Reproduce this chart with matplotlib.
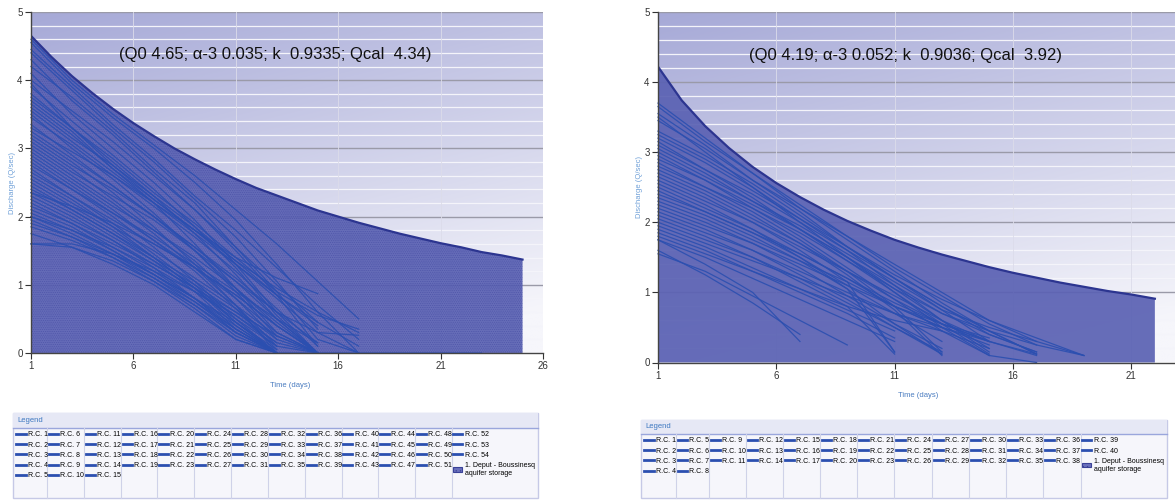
import numpy as np
from matplotlib import pyplot as plt
from matplotlib.lines import Line2D
from matplotlib.patches import Patch, Rectangle

plt.rcParams['font.family'] = ['Liberation Sans', 'DejaVu Sans']
plt.rcParams['hatch.linewidth'] = 0.4

LINE_COLOR = '#2b4fb0'
FILL_COLOR = '#5a61b3'
EDGE_COLOR = '#2c3590'

# ---- left chart: Boussinesq envelope (days 1..25) ----
left_env_days = list(range(1, 26))
left_env = [4.65, 4.34, 4.06, 3.81, 3.58, 3.37, 3.18, 3.00, 2.84, 2.69, 2.55, 2.42,
            2.31, 2.20, 2.09, 2.00, 1.91, 1.83, 1.75, 1.68, 1.61, 1.55, 1.48, 1.43, 1.37]
left_text = "(Q0 4.65; \u03b1-3 0.035; k  0.9335; Qcal  4.34)"

# recession curves, values read at days 1, 3, 5, 7, ...
left_curves = [
    [4.55, 3.95, 3.45, 3.0, 2.5, 1.95, 1.3, 0.6, 0.0],
    [4.4, 3.85, 3.3, 2.8, 2.25, 1.7, 1.05, 0.35],
    [4.3, 3.7, 3.2, 2.65, 2.1, 1.5, 0.85, 0.1],
    [4.2, 3.75, 3.25, 2.7, 2.2, 1.55, 0.9, 0.2, 0.0],
    [4.1, 3.5, 3.0, 2.5, 1.95, 1.3, 0.6, 0.0],
    [4.0, 3.55, 3.1, 2.6, 2.1, 1.55, 1.0, 0.45],
    [3.9, 3.4, 2.9, 2.4, 1.85, 1.25, 0.55, 0.0],
    [3.8, 3.3, 2.85, 2.35, 1.9, 1.4, 0.9, 0.55, 0.35],
    [3.7, 3.25, 2.7, 2.2, 1.6, 0.95, 0.3, 0.0],
    [3.6, 3.15, 2.75, 2.3, 1.85, 1.35, 0.85, 0.4],
    [3.5, 3.0, 2.55, 2.05, 1.5, 0.9, 0.25, 0.0],
    [3.45, 3.05, 2.6, 2.15, 1.7, 1.2, 0.65, 0.1],
    [3.35, 2.9, 2.45, 2.0, 1.5, 0.95, 0.4, 0.0],
    [3.3, 2.95, 2.6, 2.2, 1.8, 1.4, 1.1, 0.87],
    [3.2, 2.8, 2.35, 1.85, 1.3, 0.7, 0.0],
    [3.15, 2.75, 2.4, 2.0, 1.55, 1.05, 0.5, 0.0],
    [3.1, 2.7, 2.25, 1.8, 1.35, 0.8, 0.2],
    [3.05, 2.65, 2.3, 1.95, 1.5, 1.05, 0.6, 0.3, 0.26],
    [3.0, 2.6, 2.2, 1.75, 1.25, 0.7, 0.1],
    [2.95, 2.55, 2.15, 1.8, 1.4, 0.95, 0.45, 0.0],
    [2.9, 2.5, 2.1, 1.65, 1.2, 0.65, 0.05],
    [2.85, 2.45, 2.05, 1.65, 1.25, 0.8, 0.3, 0.0],
    [2.8, 2.4, 2.0, 1.55, 1.05, 0.5, 0.0],
    [2.75, 2.4, 2.05, 1.7, 1.3, 0.9, 0.5, 0.15],
    [2.7, 2.3, 1.9, 1.45, 1.0, 0.45, 0.0],
    [2.65, 2.3, 1.95, 1.6, 1.25, 0.85, 0.4, 0.0],
    [2.6, 2.25, 1.85, 1.4, 0.95, 0.4, 0.0],
    [2.55, 2.2, 1.85, 1.5, 1.1, 0.7, 0.25],
    [2.5, 2.15, 1.8, 1.4, 0.95, 0.45, 0.0],
    [2.45, 2.1, 1.75, 1.4, 1.05, 0.65, 0.2, 0.0],
    [2.4, 2.1, 1.75, 1.35, 0.9, 0.35, 0.0],
    [2.35, 2.05, 1.7, 1.35, 1.0, 0.6, 0.15],
    [2.3, 2.0, 1.65, 1.25, 0.8, 0.3, 0.0],
    [2.25, 1.95, 1.65, 1.3, 0.95, 0.55, 0.1],
    [2.2, 1.9, 1.55, 1.2, 0.8, 0.35, 0.0],
    [2.15, 1.9, 1.6, 1.3, 0.95, 0.6, 0.25, 0.0],
    [2.1, 1.85, 1.5, 1.15, 0.75, 0.3, 0.0],
    [2.05, 1.8, 1.5, 1.15, 0.8, 0.45, 0.05],
    [2.0, 1.8, 1.55, 1.25, 0.9, 0.5, 0.1, 0.0],
    [1.95, 1.7, 1.4, 1.05, 0.65, 0.2, 0.0],
    [1.9, 1.7, 1.45, 1.15, 0.8, 0.4, 0.0],
    [1.85, 1.65, 1.4, 1.1, 0.75, 0.35, 0.0],
    [1.6, 1.6, 1.45, 1.2, 0.9, 0.55, 0.15, 0.0],
    [1.6, 1.55, 1.35, 1.05, 0.7, 0.3, 0.0],
    [3.95, 3.3, 2.75, 2.25, 1.8, 1.3, 0.8, 0.3, 0.0],
    [4.45, 3.9, 3.35, 2.85, 2.3, 1.8, 1.25, 0.7, 0.2],
    [3.75, 3.3, 2.8, 2.3, 1.75, 1.15, 0.5, 0.0],
    [3.55, 3.1, 2.65, 2.2, 1.75, 1.3, 0.85, 0.45, 0.1],
    [3.25, 2.85, 2.45, 2.0, 1.55, 1.1, 0.6, 0.15],
    [2.35, 2.15, 1.9, 1.6, 1.25, 0.85, 0.4, 0.0],
    [2.0, 1.75, 1.45, 1.1, 0.7, 0.25, 0.0],
    [3.65, 3.2, 2.7, 2.25, 1.8, 1.35, 0.95, 0.6, 0.3],
    [4.6, 4.0, 3.5, 3.05, 2.6, 2.1, 1.6, 1.05, 0.5],
    [1.75, 1.55, 1.3, 1.0, 0.6, 0.2, 0.0, 0.0, 0.0, 0.0, 0.0, 0.0],
]

# ---- right chart: Boussinesq envelope (days 1..22) ----
right_env_days = list(range(1, 23))
right_env = [4.22, 3.74, 3.37, 3.06, 2.79, 2.56, 2.36, 2.18, 2.02, 1.88, 1.75,
             1.64, 1.54, 1.45, 1.36, 1.28, 1.21, 1.14, 1.08, 1.02, 0.97, 0.91]
right_text = "(Q0 4.19; \u03b1-3 0.052; k  0.9036; Qcal  3.92)"

right_curves = [
    [3.7, 3.2, 2.7, 2.25, 1.8, 1.4, 1.0, 0.6, 0.3, 0.1],
    [3.65, 3.15, 2.7, 2.2, 1.75, 1.3, 0.85, 0.45, 0.12],
    [3.55, 3.1, 2.6, 2.15, 1.65, 1.2, 0.75, 0.3],
    [3.45, 3.05, 2.6, 2.2, 1.8, 1.35, 0.95, 0.55, 0.25, 0.1],
    [3.3, 2.95, 2.55, 2.1, 1.65, 1.2, 0.8, 0.4, 0.15],
    [3.25, 2.9, 2.5, 2.05, 1.6, 1.1, 0.6, 0.15],
    [3.2, 2.85, 2.45, 2.05, 1.65, 1.25, 0.9, 0.6, 0.35, 0.1],
    [3.15, 2.75, 2.35, 1.9, 1.45, 1.0, 0.55, 0.12],
    [3.1, 2.75, 2.4, 2.0, 1.6, 1.2, 0.8, 0.45, 0.12],
    [3.05, 2.7, 2.3, 1.9, 1.5, 1.05, 0.6, 0.2],
    [3.0, 2.65, 2.3, 1.95, 1.55, 1.15, 0.75, 0.5, 0.3],
    [2.95, 2.6, 2.2, 1.8, 1.35, 0.9, 0.45, 0.1],
    [2.9, 2.6, 2.25, 1.9, 1.5, 1.1, 0.7, 0.4, 0.15],
    [2.85, 2.5, 2.15, 1.75, 1.3, 0.8, 0.15],
    [2.8, 2.5, 2.2, 1.85, 1.45, 1.05, 0.7, 0.45, 0.25],
    [2.75, 2.45, 2.1, 1.7, 1.25, 0.75, 0.1],
    [2.7, 2.4, 2.05, 1.7, 1.3, 0.9, 0.55, 0.3],
    [2.65, 2.35, 2.0, 1.6, 1.15, 0.15],
    [2.6, 2.3, 2.0, 1.65, 1.3, 0.95, 0.6, 0.3, 0.12],
    [2.55, 2.25, 1.9, 1.5, 1.05, 0.55, 0.12],
    [2.5, 2.2, 1.9, 1.55, 1.2, 0.85, 0.55, 0.3, 0.1],
    [2.45, 2.15, 1.85, 1.5, 1.1, 0.7, 0.3],
    [2.4, 2.15, 1.85, 1.55, 1.2, 0.8, 0.55, 0.35],
    [2.35, 2.1, 1.8, 1.45, 1.05, 0.15],
    [2.3, 2.05, 1.75, 1.45, 1.15, 0.8, 0.5, 0.25],
    [2.25, 2.0, 1.7, 1.35, 0.95, 0.55, 0.2],
    [2.2, 1.95, 1.7, 1.4, 1.1, 0.8, 0.5],
    [2.15, 1.9, 1.6, 1.25, 0.9, 0.5, 0.12],
    [2.1, 1.85, 1.6, 1.3, 1.0, 0.7, 0.45, 0.2],
    [2.05, 1.8, 1.5, 1.15, 0.8, 0.12],
    [2.0, 1.75, 1.5, 1.2, 0.85, 0.5, 0.15],
    [1.95, 1.7, 1.45, 1.2, 0.95, 0.7, 0.5, 0.3],
    [1.9, 1.65, 1.35, 1.05, 0.75, 0.45],
    [1.85, 1.6, 1.3, 1.0, 0.7, 0.35],
    [1.8, 1.55, 1.3, 1.05, 0.8, 0.6, 0.45],
    [1.75, 1.5, 1.2, 0.9, 0.6, 0.3],
    [1.6, 1.25, 0.85, 0.4],
    [1.75, 1.4, 1.0, 0.3],
    [1.55, 1.3, 0.95, 0.6, 0.25],
    [3.5, 3.0, 2.5, 2.0, 1.5, 1.0, 0.5, 0.1, 0.0],
]

x_ticks = [1, 6, 11, 16, 21, 26]
y_ticks = [0, 1, 2, 3, 4, 5]
env_label = "1. Deput - Boussinesq\naquifer storage"

W, H = 1175, 501
fig = plt.figure(figsize=(W / 100, H / 100), dpi=100)


def px_axes(x0, x1, y_top, y_bot):
    return fig.add_axes([x0 / W, (H - y_bot) / H, (x1 - x0) / W, (y_bot - y_top) / H])


def background(ax):
    yy, xx = np.mgrid[0:1:200j, 0:1:200j]
    t = np.clip(0.8 * yy + 0.3 * xx, 0, 1)
    top = np.array([166, 169, 215]) / 255
    bot = np.array([246, 246, 251]) / 255
    img = top[None, None, :] * (1 - t[..., None]) + bot[None, None, :] * t[..., None]
    ax.imshow(img, extent=[0, 1, 0, 1], transform=ax.transAxes, aspect='auto',
              zorder=0, origin='upper')


def draw_chart(ax, xmax, env_days, env, curves, hatch):
    background(ax)
    ax.set_xlim(1, xmax)
    ax.set_ylim(0, 5)
    for v in np.arange(0.2, 5.0, 0.2):
        if abs(v - round(v)) > 1e-6:
            ax.axhline(v, color='#f4f4fa', lw=0.9, zorder=1)
    for v in y_ticks[1:]:
        ax.axhline(v, color='#9a9aa8', lw=1.0, zorder=1)
    for v in x_ticks[1:]:
        ax.axvline(v, color='#dcdcea', lw=0.6, zorder=1)
    ax.fill_between(env_days, env, 0, facecolor=FILL_COLOR, alpha=0.92,
                    edgecolor='#4a51a6' if hatch else 'none', hatch=hatch,
                    lw=0, zorder=2)
    ax.plot(env_days, env, color=EDGE_COLOR, lw=1.6, zorder=4)
    handles = []
    for i, c in enumerate(curves):
        days = 1 + 2 * np.arange(len(c))
        ln, = ax.plot(days, c, color=LINE_COLOR, lw=0.9, alpha=0.9, zorder=3,
                      label=f"R.C. {i + 1}", clip_on=False)
        handles.append(ln)
    ax.set_xticks([t for t in x_ticks if t <= xmax])
    ax.set_yticks(y_ticks)
    ax.tick_params(labelsize=7, colors='#333333', length=4, width=0.8, pad=2)
    for s in ['top', 'right']:
        ax.spines[s].set_visible(False)
    for s in ['left', 'bottom']:
        ax.spines[s].set_color('#444444')
        ax.spines[s].set_linewidth(1.0)
        ax.spines[s].set_zorder(5)
    handles.append(Patch(facecolor='#6a70bc', edgecolor='#3a4198', hatch='....', lw=0.8,
                         label=env_label))
    return handles


axL = px_axes(31, 543, 12, 353)
hL = draw_chart(axL, 26, left_env_days, left_env, left_curves, '.........')
axL.text(0.477, 0.874, left_text, transform=axL.transAxes, ha='center', va='center',
         fontsize=12, color='#111111', zorder=6)
axL.text(0.506, -0.095, 'Time (days)', transform=axL.transAxes, ha='center', va='center',
         fontsize=5.5, color='#4a7cc0')
axL.text(-0.037, 0.5, 'Discharge (Q/sec)', transform=axL.transAxes, ha='center', va='center',
         rotation=90, fontsize=5.5, color='#6fa0d8')

axR = px_axes(658, 1175, 12, 362.5)
hR = draw_chart(axR, 1 + (1175 - 658) / 23.66, right_env_days, right_env, right_curves, None)
axR.text(0.478, 0.877, right_text, transform=axR.transAxes, ha='center', va='center',
         fontsize=12, color='#111111', zorder=6)
axR.text(0.503, -0.093, 'Time (days)', transform=axR.transAxes, ha='center', va='center',
         fontsize=5.5, color='#4a7cc0')
axR.text(-0.036, 0.5, 'Discharge (Q/sec)', transform=axR.transAxes, ha='center', va='center',
         rotation=90, fontsize=5.5, color='#6fa0d8')


def legend_box(handles, x0, x1, y_top, y_bot, header_h):
    bx, by = x0 / W, (H - y_bot) / H
    bw, bh = (x1 - x0) / W, (y_bot - y_top) / H
    fig.patches.append(Rectangle((bx, by), bw, bh, transform=fig.transFigure,
                                 facecolor='#f6f6fb', edgecolor='#c6c9e6', lw=1.0, zorder=1))
    hh = header_h / H
    fig.patches.append(Rectangle((bx, by + bh - hh), bw, hh, transform=fig.transFigure,
                                 facecolor='#e6e8f5', edgecolor='none', zorder=1.5))
    fig.lines.append(Line2D([bx, bx + bw], [by + bh - hh] * 2, transform=fig.transFigure,
                            color='#9aa6dc', lw=1.0, zorder=1.6))
    fig.text(bx + 4 / W, by + bh - hh / 2, 'Legend', fontsize=5.5, color='#3d78c0',
             ha='left', va='center')
    legend_h = (y_bot - y_top - header_h) / H
    leg = fig.legend(handles=handles, ncol=13, mode='expand', loc='upper left',
                     bbox_to_anchor=(bx, by, bw, legend_h), bbox_transform=fig.transFigure,
                     frameon=False, fontsize=5, handlelength=1.3, handletextpad=0.3,
                     columnspacing=0.3, labelspacing=0.45, borderaxespad=0.2,
                     borderpad=0.3, handleheight=0.6)
    for ln in leg.get_lines():
        ln.set_linewidth(2.0)
        ln.set_alpha(1.0)
    return leg, (bx, by, bw, legend_h)


legL, boxL = legend_box(hL, 13, 538, 413, 498, 15)
legR, boxR = legend_box(hR, 641, 1167, 420, 498, 14)

fig.canvas.draw()
renderer = fig.canvas.get_renderer()
for leg, (bx, by, bw, bh) in [(legL, boxL), (legR, boxR)]:
    xs = sorted(set(round(t.get_window_extent(renderer).x0) for t in leg.get_texts()))
    cols = []
    for x in xs:
        if not cols or x - cols[-1] > 5:
            cols.append(x)
    for x in cols[1:]:
        xf = (x - 13) / W
        fig.lines.append(Line2D([xf, xf], [by, by + bh], transform=fig.transFigure,
                                color='#cfd2e8', lw=0.8, zorder=1.7))

fig.savefig('out.png', dpi=100)
